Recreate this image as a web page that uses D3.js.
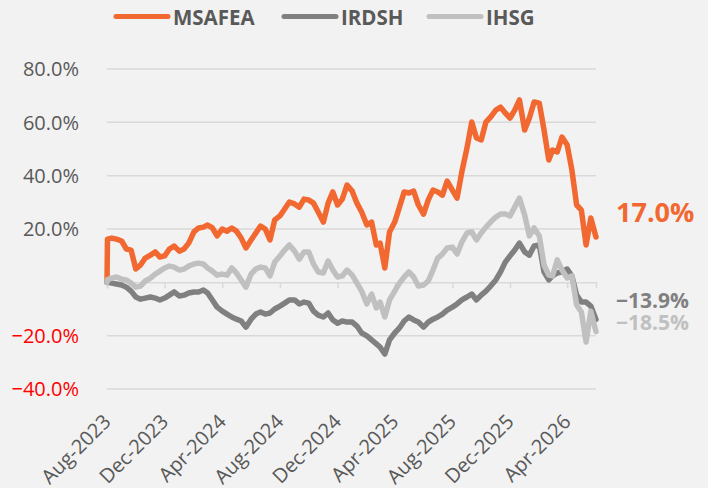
<!doctype html>
<html lang="en">
<head>
 <meta charset="utf-8">
 <script src="https://cdn.jsdelivr.net/npm/d3@7"></script>
 <title>MSAFEA vs IRDSH vs IHSG</title>
 <style>
  body { margin: 0; background: #f2f2f2; }
  svg { display: block; font-family: "Open Sans", sans-serif; }
 </style>
</head>
<body>
<div id="chart"></div>

<script>
    // Dates (1st, 11th, 21st of each month)
    var dates = [
        "2023-08-01","2023-08-02","2023-08-11","2023-08-21",
        "2023-09-01","2023-09-11","2023-09-21","2023-10-01","2023-10-11","2023-10-21",
        "2023-11-01","2023-11-11","2023-11-21","2023-12-01","2023-12-11","2023-12-21",
        "2024-01-01","2024-01-11","2024-01-21","2024-02-01","2024-02-11","2024-02-21",
        "2024-03-01","2024-03-11","2024-03-21","2024-04-01","2024-04-11","2024-04-21",
        "2024-05-01","2024-05-11","2024-05-21","2024-06-01","2024-06-11","2024-06-21",
        "2024-07-01","2024-07-11","2024-07-21","2024-08-01","2024-08-11","2024-08-21",
        "2024-09-01","2024-09-11","2024-09-21","2024-10-01","2024-10-11","2024-10-21",
        "2024-11-01","2024-11-11","2024-11-21","2024-12-01","2024-12-11","2024-12-21",
        "2025-01-01","2025-01-11","2025-01-21","2025-02-01","2025-02-11","2025-02-21",
        "2025-03-01","2025-03-11","2025-03-21","2025-04-01","2025-04-11","2025-04-21",
        "2025-05-01","2025-05-11","2025-05-21","2025-06-01","2025-06-11","2025-06-21",
        "2025-07-01","2025-07-11","2025-07-21","2025-08-01","2025-08-11","2025-08-21",
        "2025-09-01","2025-09-11","2025-09-21","2025-10-01","2025-10-11","2025-10-21",
        "2025-11-01","2025-11-11","2025-11-21","2025-12-01","2025-12-11","2025-12-21",
        "2026-01-01","2026-01-11","2026-01-21","2026-02-01","2026-02-11","2026-02-21",
        "2026-03-01","2026-03-11","2026-03-21","2026-04-01","2026-04-11","2026-04-21",
        "2026-05-01","2026-05-11","2026-05-21","2026-06-01"
    ];

    // Cumulative return, %
    var msafea = [
        0, 16.2, 16.6, 16.2,
        15.5, 12.5, 12.1, 5.0, 6.5, 9.1,
        10.2, 11.4, 9.5, 9.9, 12.5, 13.6,
        11.7, 12.5, 14.7, 18.9, 20.4, 20.7,
        21.5, 20.4, 17.4, 20.0, 19.2, 20.4,
        19.2, 16.6, 12.9, 15.9, 18.5, 21.1,
        20.0, 15.9, 23.4, 24.9, 27.5, 30.1,
        29.4, 28.2, 31.2, 30.9, 29.7, 26.4,
        22.6, 29.7, 33.9, 29.0, 31.2, 36.5,
        34.2, 29.7, 26.4, 21.5, 22.6, 14.0,
        14.7, 5.4, 18.9, 22.6, 28.2, 33.9,
        33.5, 34.2, 29.0, 25.6, 30.9, 34.6,
        33.9, 32.7, 38.0, 34.6, 31.6, 41.4,
        50.4, 60.1, 54.1, 53.4, 60.1, 62.0,
        64.6, 65.7, 63.5, 61.6, 64.6, 68.4,
        57.1, 61.6, 67.6, 67.2, 57.1, 45.9,
        49.6, 48.9, 54.5, 51.5, 42.1, 29.0,
        27.1, 14.0, 24.1, 17.0
    ];
    var irdsh = [
        0, 0, -0.3, -0.6,
        -1.0, -1.8, -3.3, -5.5, -6.3, -5.9,
        -5.5, -5.9, -6.6, -5.9, -4.8, -3.6,
        -5.1, -4.8, -4.0, -3.6, -3.6, -2.9,
        -4.0, -6.6, -9.3, -10.8, -11.9, -13.0,
        -13.8, -14.5, -16.8, -13.8, -11.9, -11.1,
        -11.9, -11.5, -10.0, -8.9, -7.8, -6.6,
        -6.6, -8.1, -7.4, -7.8, -10.8, -12.3,
        -13.0, -11.5, -14.1, -15.3, -14.5, -14.9,
        -14.9, -16.4, -19.0, -20.1, -21.6, -23.1,
        -24.3, -26.9, -21.6, -19.0, -17.1, -14.5,
        -13.0, -14.1, -14.9, -16.8, -14.9, -13.8,
        -13.0, -11.9, -10.4, -9.3, -8.1, -6.6,
        -5.5, -4.4, -6.6, -4.8, -3.3, -1.4,
        0.9, 3.9, 7.6, 9.9, 12.1, 14.7,
        11.4, 10.2, 13.6, 14.0, 3.9, 0.9,
        2.4, 3.5, 3.9, 5.0, 2.4, -4.8,
        -7.4, -7.4, -8.9, -13.9
    ];
    var ihsg = [
        0, 1.0, 1.6, 2.0,
        1.2, 0.9, -0.3, -1.8, -1.4, 0.5,
        1.6, 3.1, 4.2, 5.4, 6.1, 5.7,
        4.6, 5.0, 6.1, 6.9, 7.2, 6.9,
        5.4, 4.2, 2.7, 3.1, 2.7, 5.4,
        3.5, 0.9, -1.8, 3.1, 5.0, 5.7,
        5.4, 2.4, 7.6, 9.9, 12.1, 14.0,
        11.7, 8.7, 11.4, 11.4, 6.9, 3.9,
        3.5, 8.0, 4.6, 2.0, 2.4, 4.6,
        2.7, -0.3, -3.3, -8.1, -4.4, -9.6,
        -7.4, -13.0, -6.6, -3.3, -0.3, 2.0,
        3.9, 2.0, -1.4, -1.0, 0.5, 4.6,
        9.1, 10.6, 12.9, 13.2, 10.6, 15.1,
        18.5, 18.9, 15.9, 18.5, 20.7, 22.6,
        24.5, 25.6, 25.6, 24.9, 28.2, 31.6,
        25.2, 17.4, 20.4, 17.4, 6.5, 2.7,
        2.4, 8.4, 4.6, 1.6, 2.4, -8.5,
        -11.1, -22.4, -10.8, -18.5
    ];

    var series_names = ["MSAFEA", "IRDSH", "IHSG"];
    var series_colors = ["#f26831", "#808080", "#c0c0c0"];
    var y_ticks = [80, 60, 40, 20, -20, -40];
    var x_ticks = ["2023-08-01", "2023-12-01", "2024-04-01", "2024-08-01", "2024-12-01",
                   "2025-04-01", "2025-08-01", "2025-12-01", "2026-04-01"];

    var width = 708, height = 488;
    var plot_left = 107, plot_right = 596, plot_top = 69, plot_bottom = 389;

    var parse = d3.timeParse("%Y-%m-%d");
    var fmt = d3.timeFormat("%b-%Y");
    var all = [msafea, irdsh, ihsg];

    var x = d3.scaleTime()
        .domain([parse("2023-08-01"), parse("2026-06-01")])
        .range([plot_left, plot_right]);
    var y = d3.scaleLinear()
        .domain([-40, 80])
        .range([plot_bottom, plot_top]);

    // Create chart
    var svg = d3.select("#chart").append("svg")
        .attr("width", width)
        .attr("height", height);

    svg.append("rect")
        .attr("width", width)
        .attr("height", height)
        .attr("fill", "#f2f2f2");

    // Grid lines
    svg.selectAll(".grid").data(y_ticks).enter().append("line")
        .attr("class", "grid")
        .attr("x1", plot_left)
        .attr("x2", plot_right)
        .attr("y1", function (d) { return y(d); })
        .attr("y2", function (d) { return y(d); })
        .attr("stroke", "#d9d9d9")
        .attr("stroke-width", 1.5);

    // Y labels
    svg.selectAll(".ylabel").data(y_ticks).enter().append("text")
        .attr("class", "ylabel")
        .attr("x", 79)
        .attr("y", function (d) { return y(d); })
        .attr("dy", "0.36em")
        .attr("text-anchor", "end")
        .attr("font-size", 20)
        .attr("fill", function (d) { return d < 0 ? "#ff0000" : "#595959"; })
        .text(function (d) { return d3.format(".1f")(d) + "%"; });

    // Zero axis with ticks
    var xAxis = d3.axisBottom(x)
        .tickValues(x_ticks.map(parse))
        .tickSize(6)
        .tickFormat("");
    var ax = svg.append("g")
        .attr("transform", "translate(0," + y(0) + ")")
        .call(xAxis);
    ax.select(".domain").attr("stroke", "#d9d9d9").attr("stroke-width", 1.5);
    ax.selectAll(".tick line").attr("stroke", "#d9d9d9").attr("stroke-width", 1.5);

    // X labels at the bottom
    svg.selectAll(".xlabel").data(x_ticks).enter().append("text")
        .attr("class", "xlabel")
        .attr("text-anchor", "end")
        .attr("font-size", 20)
        .attr("fill", "#595959")
        .attr("transform", function (d) {
            return "translate(" + (x(parse(d)) + 5) + ",423) rotate(-45)";
        })
        .text(function (d) { return fmt(parse(d)); });

    // Series lines
    var line = d3.line()
        .x(function (d, i) { return x(parse(dates[i])); })
        .y(function (d) { return y(d); });

    svg.selectAll(".series").data(all).enter().append("path")
        .attr("class", "series")
        .attr("d", line)
        .attr("fill", "none")
        .attr("stroke", function (d, i) { return series_colors[i]; })
        .attr("stroke-width", 5.5)
        .attr("stroke-linejoin", "round")
        .attr("stroke-linecap", "round");

    // End value labels
    var end_sizes = [27, 21, 21];
    var end_offsets = [-15, -11, -2];
    svg.selectAll(".endlabel").data(all).enter().append("text")
        .attr("class", "endlabel")
        .attr("x", x(parse(dates[dates.length - 1])) + 20)
        .attr("y", function (d, i) { return y(d[d.length - 1]) + end_offsets[i]; })
        .attr("font-size", function (d, i) { return end_sizes[i]; })
        .attr("font-weight", "bold")
        .attr("fill", function (d, i) { return series_colors[i]; })
        .text(function (d) { return d3.format(".1f")(d[d.length - 1]) + "%"; });

    // Legend
    var legend_x = [114, 282, 427];
    var lg = svg.selectAll(".legend").data(series_names).enter().append("g")
        .attr("class", "legend")
        .attr("transform", function (d, i) { return "translate(" + legend_x[i] + ",0)"; });
    lg.append("line")
        .attr("x1", 2)
        .attr("x2", 54)
        .attr("y1", 16.5)
        .attr("y2", 16.5)
        .attr("stroke", function (d, i) { return series_colors[i]; })
        .attr("stroke-width", 5)
        .attr("stroke-linecap", "round");
    lg.append("text")
        .attr("x", 59)
        .attr("y", 25)
        .attr("font-size", 20.5)
        .attr("font-weight", "bold")
        .attr("fill", "#595959")
        .text(function (d) { return d; });
</script>

</body>
</html>
